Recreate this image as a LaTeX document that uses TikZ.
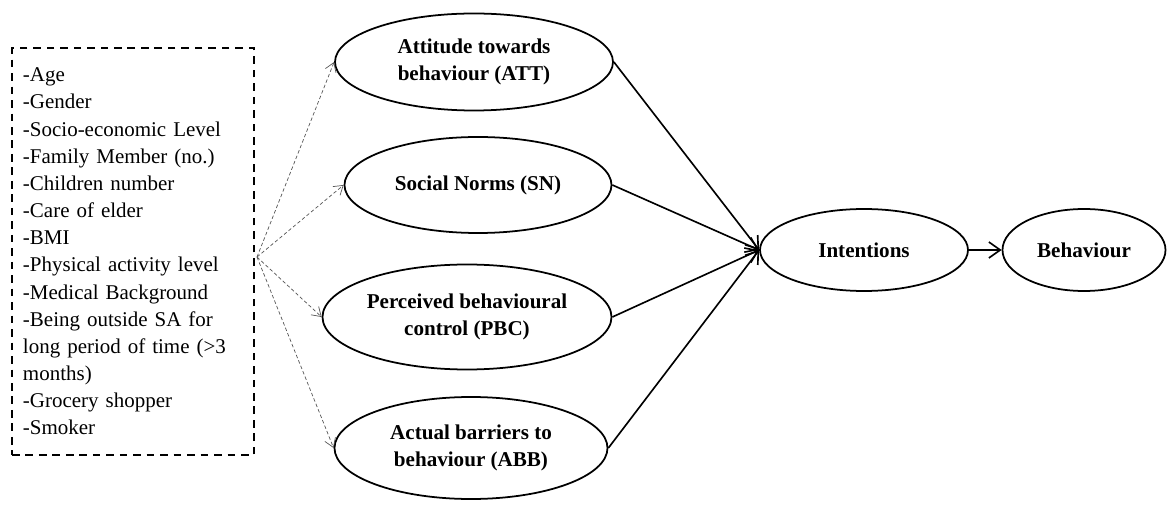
\documentclass[tikz,border=0pt]{standalone}
\usepackage{fontspec}
\setmainfont{Liberation Serif}
\usepackage{tikz}
\usetikzlibrary{arrows.meta,positioning,shapes.geometric,calc}
\definecolor{dotgray}{HTML}{555555}

\begin{document}
\begin{tikzpicture}[>={Straight Barb[length=3.4mm,width=4.8mm]},
  construct/.style={draw,ellipse,line width=1.5pt,inner sep=0pt,align=center,font=\fontsize{18}{23}\selectfont\bfseries},
  factorbox/.style={draw,dashed,dash pattern=on 6.5pt off 5pt,line width=1.4pt,text width=6.6cm,inner xsep=0.33cm,minimum height=12.21cm,align=left,font=\fontsize{17.9}{23.2}\selectfont},
  link/.style={->,line width=1.4pt},
  hint/.style={->,dotgray,densely dashed,line width=0.6pt,>={Straight Barb[length=2.6mm,width=3.4mm]}}]
  \useasboundingbox (0,0) rectangle (35.13,15.12);
  \node[factorbox] (factors) at (3.99,7.575) {-Age\\-Gender\\-Socio-economic Level\\-Family Member (no.)\\-Children number\\-Care of elder\\-BMI\\-Physical activity level\\-Medical Background\\-Being outside SA for\\long period of time (>3\\months)\\-Grocery shopper\\-Smoker};
  \coordinate (fan) at (7.71,7.41);
  \node[construct,minimum width=8.34cm,minimum height=2.91cm] (att) at (14.22,13.26) {Attitude towards\\behaviour (ATT)};
  \node[construct,minimum width=8.01cm,minimum height=2.88cm] (sn) at (14.34,9.57) {Social Norms (SN)};
  \node[construct,minimum width=8.67cm,minimum height=3.15cm] (pbc) at (14.01,5.61) {Perceived behavioural\\control (PBC)};
  \node[construct,minimum width=8.19cm,minimum height=3.06cm] (abb) at (14.13,1.68) {Actual barriers to\\behaviour (ABB)};
  \node[construct,minimum width=6.24cm,minimum height=2.46cm] (intent) at (25.92,7.62) {Intentions};
  \node[construct,minimum width=4.89cm,minimum height=2.46cm] (behav) at (32.52,7.62) {Behaviour};
  \draw[hint] (fan) -- (att.west);
  \draw[hint] (fan) -- (sn.west);
  \draw[hint] (fan) -- (pbc.west);
  \draw[hint] (fan) -- (abb.west);
  \draw[link] (att.east) -- (intent.west);
  \draw[link] (sn.east) -- (intent.west);
  \draw[link] (pbc.east) -- (intent.west);
  \draw[link] (abb.east) -- (intent.west);
  \draw[link] (intent) -- (behav);
\end{tikzpicture}
\end{document}
